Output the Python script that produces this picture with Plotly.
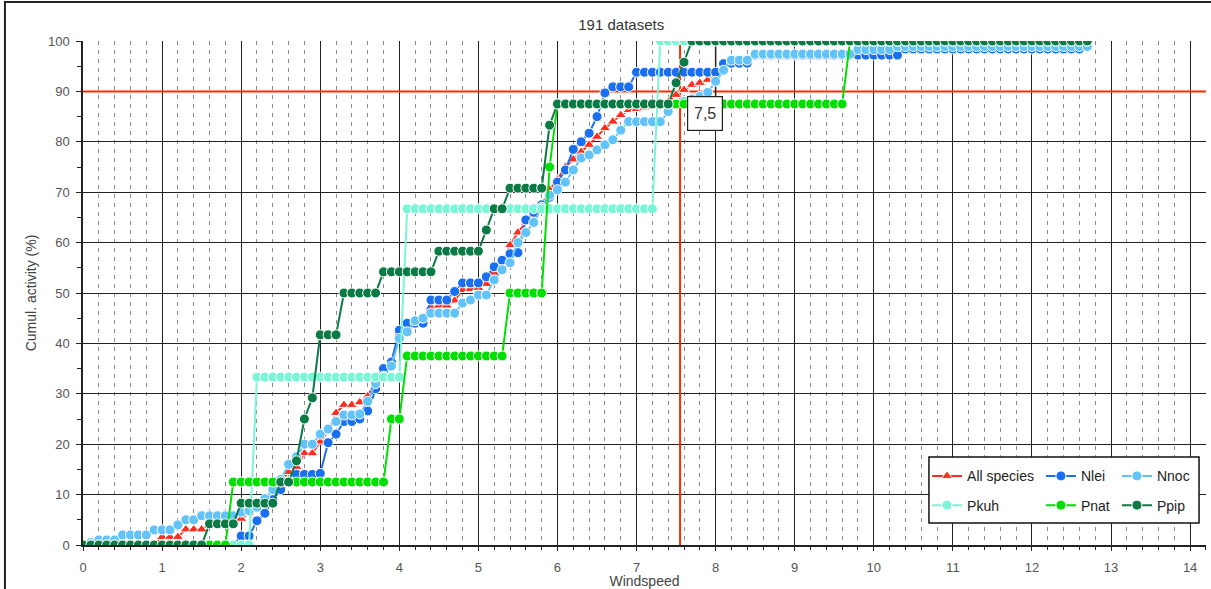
import plotly.graph_objects as go

# ---------------- data ----------------
WIND = [0.0, 0.1, 0.2, 0.3, 0.4, 0.5, 0.6, 0.7, 0.8, 0.9,
        1.0, 1.1, 1.2, 1.3, 1.4, 1.5, 1.6, 1.7, 1.8, 1.9,
        2.0, 2.1, 2.2, 2.3, 2.4, 2.5, 2.6, 2.7, 2.8, 2.9,
        3.0, 3.1, 3.2, 3.3, 3.4, 3.5, 3.6, 3.7, 3.8, 3.9,
        4.0, 4.1, 4.2, 4.3, 4.4, 4.5, 4.6, 4.7, 4.8, 4.9,
        5.0, 5.1, 5.2, 5.3, 5.4, 5.5, 5.6, 5.7, 5.8, 5.9,
        6.0, 6.1, 6.2, 6.3, 6.4, 6.5, 6.6, 6.7, 6.8, 6.9,
        7.0, 7.1, 7.2, 7.3, 7.4, 7.5, 7.6, 7.7, 7.8, 7.9,
        8.0, 8.1, 8.2, 8.3, 8.4, 8.5, 8.6, 8.7, 8.8, 8.9,
        9.0, 9.1, 9.2, 9.3, 9.4, 9.5, 9.6, 9.7, 9.8, 9.9,
        10.0, 10.1, 10.2, 10.3, 10.4, 10.5, 10.6, 10.7, 10.8, 10.9,
        11.0, 11.1, 11.2, 11.3, 11.4, 11.5, 11.6, 11.7, 11.8, 11.9,
        12.0, 12.1, 12.2, 12.3, 12.4, 12.5, 12.6, 12.7]

ALL_SPECIES = [0, 0, 0, 0, 0, 0, 0, 0, 0, 0,
               1.6, 1.6, 1.6, 3.1, 3.1, 3.1, 4.2, 4.2, 4.2, 4.2,
               5.2, 6.3, 7.0, 8.5, 10.5, 12.5, 14.5, 15.5, 18.2, 18.2,
               20.5, 22.5, 26.2, 27.8, 27.8, 28.3, 29.5, 32.5, 34.5, 36.3,
               42.0, 43.2, 44.2, 44.8, 47.2, 47.5, 47.5, 48.5, 50.6, 50.8,
               51.0, 51.8, 54.0, 55.6, 59.5, 62.0, 64.0, 65.5, 67.5, 70.5,
               72.5, 75.0, 76.5, 78.0, 79.4, 81.0, 82.7, 84.0, 85.3, 86.3,
               86.5, 86.8, 87.0, 87.2, 88.0, 89.3, 90.3, 91.3, 91.7, 92.3,
               93.0, 94.5, 95.5, 95.8, 96.0, 96.8, 96.8, 96.8, 96.8, 96.8,
               96.8, 96.8, 96.8, 96.8, 96.8, 96.8, 96.8, 97.5, 97.8, 97.8,
               97.8, 97.8, 97.8, 97.8, 98.6, 98.6, 98.6, 98.6, 98.6, 98.6,
               98.6, 98.6, 98.6, 98.6, 98.6, 98.6, 98.6, 98.6, 98.6, 98.6,
               98.6, 98.6, 98.6, 98.6, 98.6, 98.6, 98.6, 98.6]

NLEI = [0, 0, 0, 0, 0, 0, 0, 0, 0, 0,
        0, 0, 0, 0, 0, 0, 0, 0, 0, 0,
        1.8, 1.8, 4.8, 6.3, 9.0, 11.0, 12.5, 14.0, 14.0, 14.0,
        14.2, 20.3, 22.0, 24.5, 24.5, 25.0, 26.6, 31.0, 35.0, 36.3,
        42.6, 44.0, 44.0, 44.0, 48.6, 48.6, 48.6, 50.3, 52.0, 52.0,
        52.0, 53.2, 55.2, 56.5, 57.8, 58.0, 64.5, 66.0, 67.5, 69.0,
        72.0, 74.4, 78.5, 80.0, 81.7, 85.0, 89.7, 90.9, 90.9, 90.9,
        93.8, 93.8, 93.8, 93.8, 93.8, 93.8, 93.8, 93.8, 93.8, 93.8,
        93.8, 95.5, 95.6, 95.6, 95.6, 97.2, 97.2, 97.2, 97.2, 97.2,
        97.2, 97.2, 97.2, 97.2, 97.2, 97.2, 97.2, 97.2, 97.2, 97.2,
        97.2, 97.2, 97.2, 97.2, 98.4, 98.4, 98.4, 98.4, 98.4, 98.4,
        98.4, 98.4, 98.4, 98.4, 98.4, 98.4, 98.4, 98.4, 98.4, 98.4,
        98.4, 98.4, 98.4, 98.4, 98.4, 98.4, 98.4, None]

NNOC = [0, 0.5, 1.0, 1.0, 1.0, 2.0, 2.0, 2.0, 2.0, 3.0,
        3.0, 3.0, 4.0, 5.0, 5.0, 5.8, 5.8, 5.8, 5.8, 5.8,
        6.5, 6.8, 7.5, 9.2, 11.0, 13.0, 16.0, 17.5, 20.0, 20.0,
        22.0, 23.0, 24.5, 25.8, 25.8, 26.0, 28.5, 32.0, 33.5, 35.5,
        41.0, 42.3, 44.5, 45.0, 46.0, 46.0, 46.0, 46.0, 48.0, 48.6,
        49.6, 49.6, 52.6, 54.6, 56.0, 60.0, 62.0, 64.0, 67.0, 69.4,
        70.5, 72.0, 74.4, 76.8, 77.4, 78.4, 79.4, 80.4, 82.3, 84.0,
        84.0, 84.0, 84.0, 84.0, 86.0, 87.5, 88.0, 88.5, 89.0, 89.8,
        92.0, 94.2, 96.2, 96.2, 96.2, 97.4, 97.4, 97.4, 97.4, 97.4,
        97.4, 97.4, 97.4, 97.4, 97.4, 97.4, 97.4, 97.4, 98.3, 98.3,
        98.3, 98.3, 98.3, 98.9, 98.9, 98.9, 98.9, 98.9, 98.9, 98.9,
        98.9, 98.9, 98.9, 98.9, 98.9, 98.9, 98.9, 98.9, 98.9, 98.9,
        98.9, 98.9, 98.9, 98.9, 98.9, 98.9, 98.9, 98.9]

PKUH = [0, 0, 0, 0, 0, 0, 0, 0, 0, 0,
        0, 0, 0, 0, 0, 0, 0, 0, 0, 0,
        0, 0, 33.3, 33.3, 33.3, 33.3, 33.3, 33.3, 33.3, 33.3,
        33.3, 33.3, 33.3, 33.3, 33.3, 33.3, 33.3, 33.3, 33.3, 33.3,
        33.3, 66.7, 66.7, 66.7, 66.7, 66.7, 66.7, 66.7, 66.7, 66.7,
        66.7, 66.7, 66.7, 66.7, 66.7, 66.7, 66.7, 66.7, 66.7, 66.7,
        66.7, 66.7, 66.7, 66.7, 66.7, 66.7, 66.7, 66.7, 66.7, 66.7,
        66.7, 66.7, 66.7, 100, 100, 100, 100, 100, 100, 100,
        100, 100, 100, 100, 100, 100, 100, 100, 100, 100,
        100, 100, 100, 100, 100, 100, 100, 100, 100, 100,
        100, 100, 100, 100, 100, 100, 100, 100, 100, 100,
        100, 100, 100, 100, 100, 100, 100, 100, 100, 100,
        100, 100, 100, 100, 100, 100, 100, 100]

PNAT = [0, 0, 0, 0, 0, 0, 0, 0, 0, 0,
        0, 0, 0, 0, 0, 0, 0, 0, 0, 12.5,
        12.5, 12.5, 12.5, 12.5, 12.5, 12.5, 12.5, 12.5, 12.5, 12.5,
        12.5, 12.5, 12.5, 12.5, 12.5, 12.5, 12.5, 12.5, 12.5, 25.0,
        25.0, 37.5, 37.5, 37.5, 37.5, 37.5, 37.5, 37.5, 37.5, 37.5,
        37.5, 37.5, 37.5, 37.5, 50.0, 50.0, 50.0, 50.0, 50.0, 75.0,
        87.5, 87.5, 87.5, 87.5, 87.5, 87.5, 87.5, 87.5, 87.5, 87.5,
        87.5, 87.5, 87.5, 87.5, 87.5, 87.5, 87.5, 87.5, 87.5, 87.5,
        87.5, 87.5, 87.5, 87.5, 87.5, 87.5, 87.5, 87.5, 87.5, 87.5,
        87.5, 87.5, 87.5, 87.5, 87.5, 87.5, 87.5, 100, 100, 100,
        100, 100, 100, 100, 100, 100, 100, 100, 100, 100,
        100, 100, 100, 100, 100, 100, 100, 100, 100, 100,
        100, 100, 100, 100, 100, 100, 100, 100]

PPIP = [0, 0, 0, 0, 0, 0, 0, 0, 0, 0,
        0, 0, 0, 0, 0, 0, 4.2, 4.2, 4.2, 4.2,
        8.3, 8.3, 8.3, 8.3, 8.3, 12.5, 12.5, 16.7, 25.0, 29.2,
        41.7, 41.7, 41.7, 50.0, 50.0, 50.0, 50.0, 50.0, 54.2, 54.2,
        54.2, 54.2, 54.2, 54.2, 54.2, 58.3, 58.3, 58.3, 58.3, 58.3,
        58.3, 62.5, 66.7, 66.7, 70.8, 70.8, 70.8, 70.8, 70.8, 83.3,
        87.5, 87.5, 87.5, 87.5, 87.5, 87.5, 87.5, 87.5, 87.5, 87.5,
        87.5, 87.5, 87.5, 87.5, 87.5, 91.7, 95.8, 100, 100, 100,
        100, 100, 100, 100, 100, 100, 100, 100, 100, 100,
        100, 100, 100, 100, 100, 100, 100, 100, 100, 100,
        100, 100, 100, 100, 100, 100, 100, 100, 100, 100,
        100, 100, 100, 100, 100, 100, 100, 100, 100, 100,
        100, 100, 100, 100, 100, 100, 100, 100]

SERIES_NAMES = ["All species", "Nlei", "Nnoc", "Pkuh", "Pnat", "Ppip"]
SERIES_VALUES = [ALL_SPECIES, NLEI, NNOC, PKUH, PNAT, PPIP]

THRESHOLD_PCT = 90
THRESHOLD_WIND = 7.55
THRESHOLD_LABEL = "7,5"
TITLE = "191 datasets"

# ---------------- styles ----------------
COLORS = ["#ff2d1f", "#1a6ef0", "#62c3fa", "#7af5d6", "#00e000", "#0b7a44"]
SYMBOLS = ["triangle-up", "circle", "circle", "circle", "circle", "circle"]
LEGEND_OF = ["legend", "legend2", "legend3", "legend", "legend2", "legend3"]
FONT = "Liberation Sans, Arial, Helvetica, sans-serif"

fig = go.Figure()
for name, vals, col, sym, leg in zip(SERIES_NAMES, SERIES_VALUES, COLORS, SYMBOLS, LEGEND_OF):
    fig.add_trace(go.Scatter(
        x=WIND, y=vals, name=name, mode="lines+markers",
        line=dict(color=col, width=2),
        marker=dict(symbol=sym, size=10, color=col, line=dict(color="white", width=1)),
        legend=leg, legendgroup=name,
    ))

# threshold lines
fig.add_shape(type="line", xref="x", yref="y", x0=0, x1=14.2, y0=THRESHOLD_PCT, y1=THRESHOLD_PCT,
              line=dict(color="#ff2a00", width=2), layer="between")
fig.add_shape(type="line", xref="x", yref="y", x0=THRESHOLD_WIND, x1=THRESHOLD_WIND, y0=0, y1=100,
              line=dict(color="#ff2a00", width=2), layer="between")
# callout leader
fig.add_shape(type="line", xref="x", yref="y", x0=8.0, x1=8.0, y0=88.5, y1=99.6,
              line=dict(color="#222", width=1.5), layer="between")
fig.add_annotation(x=7.86, y=85.6, xref="x", yref="y", text=THRESHOLD_LABEL, showarrow=False,
                   font=dict(family=FONT, size=16, color="#333"),
                   bgcolor="white", bordercolor="#222", borderwidth=1.2,
                   width=32, height=31)

# legend frame
fig.add_shape(type="rect", xref="paper", yref="paper", x0=0.7533, x1=0.9938, y0=0.0437, y1=0.1746,
              line=dict(color="#111", width=1.5), fillcolor="white", layer="above")
# outer frame (screenshot border)
fig.add_shape(type="rect", xref="paper", yref="paper", x0=-0.0695, x1=1.02, y0=-0.2, y1=1.0774,
              line=dict(color="#222", width=2), fillcolor="rgba(0,0,0,0)", layer="above")

legend_common = dict(bgcolor="rgba(0,0,0,0)", borderwidth=0, traceorder="grouped",
                     tracegroupgap=8, font=dict(family=FONT, size=14, color="#222"),
                     xanchor="left", yanchor="top", y=0.168, orientation="v")

fig.update_layout(
    width=1211, height=589,
    margin=dict(l=83, r=5, t=41, b=44),
    paper_bgcolor="white", plot_bgcolor="white",
    font=dict(family=FONT, size=13, color="#444"),
    title=dict(text=TITLE, x=0.513, xref="container", xanchor="center",
               y=1 - 25 / 589, yref="container", yanchor="middle",
               font=dict(family=FONT, size=15, color="#333")),
    legend=dict(x=0.7516, **legend_common),
    legend2=dict(x=0.853, **legend_common),
    legend3=dict(x=0.9207, **legend_common),
    xaxis=dict(range=[0, 14.201], tick0=0, dtick=1, showgrid=True, gridcolor="#222", gridwidth=1.2,
               zeroline=False, showline=True, linecolor="#222", linewidth=1.5,
               ticks="outside", ticklen=4, tickcolor="#222", tickwidth=1.2,
               ticklabelstandoff=6,
               tickfont=dict(family=FONT, size=13, color="#555"),
               title=dict(text="Windspeed", standoff=2, font=dict(family=FONT, size=14, color="#444")),
               minor=dict(dtick=0.2, tick0=0, showgrid=True, gridcolor="#8a8a8a", gridwidth=1,
                          griddash="4px,5px", ticks="outside", ticklen=3, tickcolor="#222"),
               automargin=False),
    yaxis=dict(range=[0, 100], tick0=0, dtick=10, showgrid=True, gridcolor="#222", gridwidth=1.2,
               zeroline=False, showline=True, linecolor="#222", linewidth=1.5,
               ticks="outside", ticklen=5, tickcolor="#222", tickwidth=1.2,
               ticklabelstandoff=4,
               tickfont=dict(family=FONT, size=13, color="#555"),
               title=dict(text="Cumul. activity (%)", standoff=8, font=dict(family=FONT, size=14, color="#444")),
               minor=dict(dtick=5, ticks="outside", ticklen=4, tickcolor="#222", showgrid=False),
               automargin=False),
)

fig.write_html("out.html", config={"displayModeBar": False},
               post_script="document.body.style.margin='0px';")
